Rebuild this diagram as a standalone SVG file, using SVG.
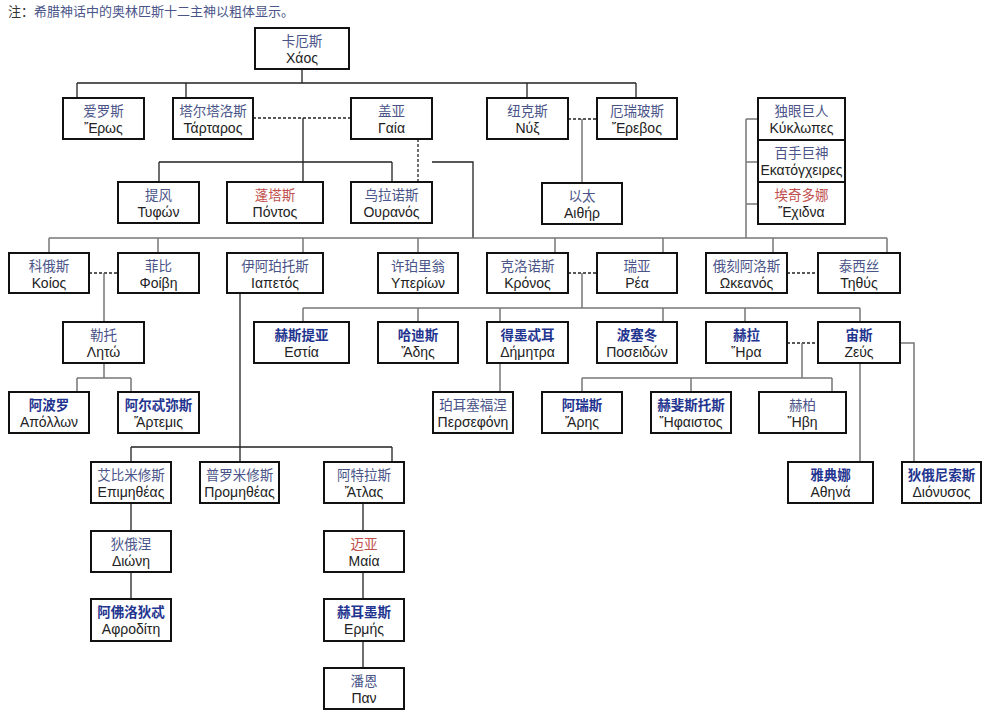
<svg xmlns="http://www.w3.org/2000/svg" width="994" height="715" viewBox="0 0 994 715">
<style>
.bx{fill:#fff;stroke:#111;stroke-width:2}
.zh{font-family:"Noto Sans CJK SC","Liberation Sans",sans-serif;font-size:13.5px;fill:#4a5488;text-anchor:middle}
.gr{font-family:"Liberation Sans","DejaVu Sans",sans-serif;font-size:14px;fill:#222;text-anchor:middle}
.ol{font-weight:bold;fill:#1f3590}
.red{fill:#c0504d}
.k{stroke:#222;stroke-width:1.3;fill:none}
.g{stroke:#777;stroke-width:1.5;fill:none}
.d{stroke:#222;stroke-width:1.3;stroke-dasharray:3 2;fill:none}
.note{font-family:"Noto Sans CJK SC","Liberation Sans",sans-serif;font-size:13px;fill:#4a5488}
</style>
<rect width="994" height="715" fill="#fff"/>
<text class="note" x="8" y="16"><tspan fill="#333">注：</tspan>希腊神话中的奥林匹斯十二主神以粗体显示。</text>
<g id="connectors">
<path class="k" d="M302,69V83M77,83H636M77,83V98M186,83V98M527,83V98M636,83V98"/>
<path class="d" d="M253,118H351"/>
<path class="k" d="M303,118V182M159,162H392M159,162V182M392,162V182"/>
<path class="d" d="M418,139V182"/>
<path class="k" d="M432,162H473V238"/>
<path class="d" d="M568,119H597"/>
<path class="g" d="M582,119V183"/>
<path class="g" d="M746,119V238M746,119H758M746,162H758M746,204H758"/>
<path class="g" d="M49,238H887M49,238V253M158,238V253M303,238V253M418,238V253M555,238V253M663,238V253M773,238V253M887,238V253"/>
<path class="d" d="M89,273H118"/>
<path class="g" d="M104,273V322M104,363V378M77,378H131M77,378V392M131,378V392"/>
<path class="k" d="M240,293V462M131,447H392M131,447V462M392,447V462"/>
<path class="k" d="M131,503V531M131,572V599"/>
<path class="k" d="M363,503V531M363,572V599M363,641V668"/>
<path class="d" d="M568,273H597"/>
<path class="g" d="M582,273V308M303,308H860M303,308V322M418,308V322M500,308V322M663,308V322M745,308V322M860,308V322"/>
<path class="d" d="M787,273H818"/>
<path class="g" d="M500,363V392"/>
<path class="d" d="M787,343H818"/>
<path class="g" d="M802,343V378M582,378H832M582,378V392M691,378V392M832,378V392"/>
<path class="g" d="M860,363V462M900,343H914V462"/>
</g>
<g id="chaos"><rect class="bx" x="255" y="28" width="94" height="41"/><text class="zh" x="302" y="45.5">卡厄斯</text><text class="gr" x="302" y="63">Χάος</text></g>
<g id="eros"><rect class="bx" x="63" y="98" width="81" height="41"/><text class="zh" x="103.5" y="115.5">爱罗斯</text><text class="gr" x="103.5" y="133">Ἔρως</text></g>
<g id="tartaros"><rect class="bx" x="173" y="98" width="80" height="41"/><text class="zh" x="213" y="115.5">塔尔塔洛斯</text><text class="gr" x="213" y="133">Τάρταρος</text></g>
<g id="gaia"><rect class="bx" x="351" y="98" width="81" height="41"/><text class="zh" x="391.5" y="115.5">盖亚</text><text class="gr" x="391.5" y="133">Γαία</text></g>
<g id="nyx"><rect class="bx" x="487" y="98" width="81" height="41"/><text class="zh" x="527.5" y="115.5">纽克斯</text><text class="gr" x="527.5" y="133">Νύξ</text></g>
<g id="erebos"><rect class="bx" x="597" y="98" width="80" height="41"/><text class="zh" x="637" y="115.5">厄瑞玻斯</text><text class="gr" x="637" y="133">Ἔρεβος</text></g>
<g id="cyclopes"><rect class="bx" x="758" y="98" width="87" height="42"/><text class="zh" x="801.5" y="115.5">独眼巨人</text><text class="gr" x="801.5" y="133">Κύκλωπες</text></g>
<g id="hecatoncheires"><rect class="bx" x="758" y="140" width="87" height="42"/><text class="zh" x="801.5" y="157.5">百手巨神</text><text class="gr" x="801.5" y="175">Εκατόγχειρες</text></g>
<g id="echidna"><rect class="bx" x="758" y="182" width="87" height="42"/><text class="zh red" x="801.5" y="199.5">埃奇多娜</text><text class="gr" x="801.5" y="217">Ἔχιδνα</text></g>
<g id="typhon"><rect class="bx" x="118" y="182" width="81" height="41"/><text class="zh" x="158.5" y="199.5">提风</text><text class="gr" x="158.5" y="217">Τυφών</text></g>
<g id="pontos"><rect class="bx" x="227" y="182" width="96" height="41"/><text class="zh red" x="275" y="199.5">蓬塔斯</text><text class="gr" x="275" y="217">Πόντος</text></g>
<g id="ouranos"><rect class="bx" x="351" y="182" width="81" height="41"/><text class="zh" x="391.5" y="199.5">乌拉诺斯</text><text class="gr" x="391.5" y="217">Ουρανός</text></g>
<g id="aether"><rect class="bx" x="542" y="183" width="80" height="41"/><text class="zh" x="582" y="200.5">以太</text><text class="gr" x="582" y="218">Αιθήρ</text></g>
<g id="koios"><rect class="bx" x="9" y="253" width="80" height="40"/><text class="zh" x="49" y="270.5">科俄斯</text><text class="gr" x="49" y="288">Κοίος</text></g>
<g id="phoibe"><rect class="bx" x="118" y="253" width="81" height="40"/><text class="zh" x="158.5" y="270.5">菲比</text><text class="gr" x="158.5" y="288">Φοίβη</text></g>
<g id="iapetos"><rect class="bx" x="227" y="253" width="96" height="40"/><text class="zh" x="275" y="270.5">伊阿珀托斯</text><text class="gr" x="275" y="288">Ιαπετός</text></g>
<g id="hyperion"><rect class="bx" x="378" y="253" width="80" height="40"/><text class="zh" x="418" y="270.5">许珀里翁</text><text class="gr" x="418" y="288">Υπερίων</text></g>
<g id="kronos"><rect class="bx" x="487" y="253" width="81" height="40"/><text class="zh" x="527.5" y="270.5">克洛诺斯</text><text class="gr" x="527.5" y="288">Κρόνος</text></g>
<g id="rhea"><rect class="bx" x="597" y="253" width="80" height="40"/><text class="zh" x="637" y="270.5">瑞亚</text><text class="gr" x="637" y="288">Ρέα</text></g>
<g id="oceanus"><rect class="bx" x="706" y="253" width="81" height="40"/><text class="zh" x="746.5" y="270.5">俄刻阿洛斯</text><text class="gr" x="746.5" y="288">Ωκεανός</text></g>
<g id="tethys"><rect class="bx" x="818" y="253" width="82" height="40"/><text class="zh" x="859" y="270.5">泰西丝</text><text class="gr" x="859" y="288">Τηθύς</text></g>
<g id="leto"><rect class="bx" x="63" y="322" width="81" height="41"/><text class="zh" x="103.5" y="339.5">勒托</text><text class="gr" x="103.5" y="357">Λητώ</text></g>
<g id="hestia"><rect class="bx" x="254" y="322" width="95" height="41"/><text class="zh ol" x="301.5" y="339.5">赫斯提亚</text><text class="gr" x="301.5" y="357">Εστία</text></g>
<g id="hades"><rect class="bx" x="378" y="322" width="80" height="41"/><text class="zh ol" x="418" y="339.5">哈迪斯</text><text class="gr" x="418" y="357">Ἅδης</text></g>
<g id="demeter"><rect class="bx" x="487" y="322" width="81" height="41"/><text class="zh ol" x="527.5" y="339.5">得墨忒耳</text><text class="gr" x="527.5" y="357">Δήμητρα</text></g>
<g id="poseidon"><rect class="bx" x="597" y="322" width="80" height="41"/><text class="zh ol" x="637" y="339.5">波塞冬</text><text class="gr" x="637" y="357">Ποσειδών</text></g>
<g id="hera"><rect class="bx" x="706" y="322" width="81" height="41"/><text class="zh ol" x="746.5" y="339.5">赫拉</text><text class="gr" x="746.5" y="357">Ἥρα</text></g>
<g id="zeus"><rect class="bx" x="818" y="322" width="82" height="41"/><text class="zh ol" x="859" y="339.5">宙斯</text><text class="gr" x="859" y="357">Ζεύς</text></g>
<g id="apollo"><rect class="bx" x="9" y="392" width="80" height="41"/><text class="zh ol" x="49" y="409.5">阿波罗</text><text class="gr" x="49" y="427">Απόλλων</text></g>
<g id="artemis"><rect class="bx" x="118" y="392" width="81" height="41"/><text class="zh ol" x="158.5" y="409.5">阿尔忒弥斯</text><text class="gr" x="158.5" y="427">Ἄρτεμις</text></g>
<g id="persephone"><rect class="bx" x="433" y="392" width="80" height="41"/><text class="zh" x="473" y="409.5">珀耳塞福涅</text><text class="gr" x="473" y="427">Περσεφόνη</text></g>
<g id="ares"><rect class="bx" x="542" y="392" width="80" height="41"/><text class="zh ol" x="582" y="409.5">阿瑞斯</text><text class="gr" x="582" y="427">Ἄρης</text></g>
<g id="hephaestus"><rect class="bx" x="651" y="392" width="80" height="41"/><text class="zh ol" x="691" y="409.5">赫斐斯托斯</text><text class="gr" x="691" y="427">Ἥφαιστος</text></g>
<g id="hebe"><rect class="bx" x="759" y="392" width="87" height="41"/><text class="zh" x="802.5" y="409.5">赫柏</text><text class="gr" x="802.5" y="427">Ἥβη</text></g>
<g id="epimetheus"><rect class="bx" x="91" y="462" width="80" height="41"/><text class="zh" x="131" y="479.5">艾比米修斯</text><text class="gr" x="131" y="497">Επιμηθέας</text></g>
<g id="prometheus"><rect class="bx" x="200" y="462" width="79" height="41"/><text class="zh" x="239.5" y="479.5">普罗米修斯</text><text class="gr" x="239.5" y="497">Προμηθέας</text></g>
<g id="atlas"><rect class="bx" x="324" y="462" width="80" height="41"/><text class="zh" x="364" y="479.5">阿特拉斯</text><text class="gr" x="364" y="497">Ἄτλας</text></g>
<g id="athena"><rect class="bx" x="788" y="462" width="85" height="41"/><text class="zh ol" x="830.5" y="479.5">雅典娜</text><text class="gr" x="830.5" y="497">Αθηνά</text></g>
<g id="dionysus"><rect class="bx" x="902" y="462" width="79" height="41"/><text class="zh ol" x="941.5" y="479.5">狄俄尼索斯</text><text class="gr" x="941.5" y="497">Διόνυσος</text></g>
<g id="dione"><rect class="bx" x="91" y="531" width="80" height="41"/><text class="zh" x="131" y="548.5">狄俄涅</text><text class="gr" x="131" y="566">Διώνη</text></g>
<g id="maia"><rect class="bx" x="324" y="531" width="80" height="41"/><text class="zh red" x="364" y="548.5">迈亚</text><text class="gr" x="364" y="566">Μαία</text></g>
<g id="aphrodite"><rect class="bx" x="91" y="599" width="80" height="42"/><text class="zh ol" x="131" y="616.5">阿佛洛狄忒</text><text class="gr" x="131" y="634">Αφροδίτη</text></g>
<g id="hermes"><rect class="bx" x="324" y="599" width="80" height="42"/><text class="zh ol" x="364" y="616.5">赫耳墨斯</text><text class="gr" x="364" y="634">Ερμής</text></g>
<g id="pan"><rect class="bx" x="324" y="668" width="80" height="41"/><text class="zh" x="364" y="685.5">潘恩</text><text class="gr" x="364" y="703">Παν</text></g>
</svg>
